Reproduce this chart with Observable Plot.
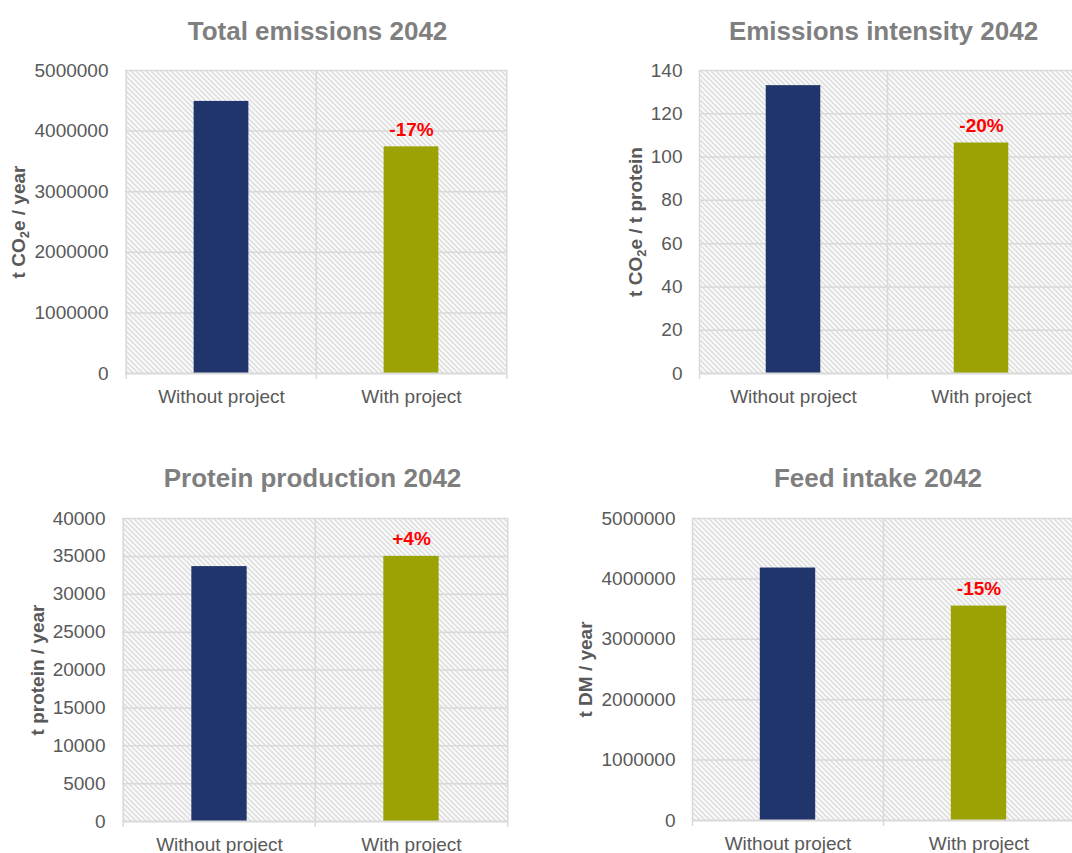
<!DOCTYPE html>
<html><head><meta charset="utf-8">
<script src="https://cdn.jsdelivr.net/npm/d3@7"></script>
<script src="https://cdn.jsdelivr.net/npm/@observablehq/plot@0.6"></script>
<style>
html,body{margin:0;padding:0;background:#fff;}
#wrap{position:relative;width:1072px;height:853px;overflow:hidden;background:#fff;}
</style></head><body>
<svg width="0" height="0" style="position:absolute"><defs>
<pattern id="hatch" width="5" height="5" patternUnits="userSpaceOnUse">
<rect width="5" height="5" fill="#ffffff"/>
<path d="M-1,-1 L6,6 M-1,4 L1,6 M4,-1 L6,1" stroke="#d3d3d3" stroke-width="1.4"/>
</pattern></defs></svg>
<div id="wrap"></div>
<script>
// ---- data ----
const categories = ["Without project", "With project"];
const titles = ["Total emissions 2042", "Emissions intensity 2042", "Protein production 2042", "Feed intake 2042"];
const yLabels = ["t CO₂e / year", "t CO₂e / t protein", "t protein / year", "t DM / year"];
const totalEmissions = [4490000, 3740000];
const emissionsIntensity = [133, 106.5];
const proteinProduction = [33650, 35000];
const feedIntake = [4180000, 3550000];
const changeLabels = ["-17%", "-20%", "+4%", "-15%"];
const ticksTotal = [0, 1000000, 2000000, 3000000, 4000000, 5000000];
const ticksIntensity = [0, 20, 40, 60, 80, 100, 120, 140];
const ticksProtein = [0, 5000, 10000, 15000, 20000, 25000, 30000, 35000, 40000];
const ticksFeed = [0, 1000000, 2000000, 3000000, 4000000, 5000000];
const barColors = ["#21356d", "#9aa204"];

// ---- layout ----
const panels = [
  {values: totalEmissions, ticks: ticksTotal, i: 0, left: 0, top: 0, width: 530, height: 420, ml: 125, mr: 24, mt: 70, mb: 47, labelDx: -107, titleDx: 1.5, titleDy: -39},
  {values: emissionsIntensity, ticks: ticksIntensity, i: 1, left: 540, top: 0, width: 540, height: 420, ml: 159, mr: 5, mt: 70, mb: 47, labelDx: -64, titleDx: -4, titleDy: -39},
  {values: proteinProduction, ticks: ticksProtein, i: 2, left: 0, top: 440, width: 530, height: 413, ml: 122, mr: 23, mt: 78, mb: 32, labelDx: -85, titleDx: -2.5, titleDy: -40},
  {values: feedIntake, ticks: ticksFeed, i: 3, left: 540, top: 440, width: 540, height: 413, ml: 152, mr: 6, mt: 78, mb: 33, labelDx: -107, titleDx: -5.5, titleDy: -40}
];
const grid = "#d9d9d9";
const barFrac = 0.29;
const wrap = document.getElementById("wrap");
const ns = "http://www.w3.org/2000/svg";

for (const p of panels) {
  const data = categories.map((c, k) => ({cat: c, value: p.values[k]}));
  const step = (p.width - p.ml - p.mr) / categories.length;
  const inset = step * (1 - barFrac) / 2;
  const yMax = p.ticks[p.ticks.length - 1];
  const svg = Plot.plot({
    width: p.width, height: p.height,
    marginLeft: p.ml, marginRight: p.mr, marginTop: p.mt, marginBottom: p.mb,
    style: {fontFamily: "'Liberation Sans', Arial, sans-serif", fontSize: "19px", color: "#595959", background: "transparent", overflow: "visible"},
    x: {domain: categories, padding: 0},
    y: {domain: [0, yMax]},
    color: {domain: categories, range: barColors},
    marks: [
      Plot.frame({fill: "url(#hatch)", stroke: null}),
      Plot.ruleY(p.ticks.slice(1), {stroke: grid, strokeWidth: 1.5}),
      Plot.ruleX(categories, {x: d => d, dx: -step / 2, stroke: grid, strokeWidth: 1.5, insetBottom: -6}),
      Plot.ruleX([categories[categories.length - 1]], {x: d => d, dx: step / 2, stroke: grid, strokeWidth: 1.5, insetBottom: -6}),
      Plot.barY(data, {x: "cat", y: "value", fill: "cat", insetLeft: inset, insetRight: inset}),
      Plot.ruleY([0], {stroke: grid, strokeWidth: 2}),
      Plot.axisY(p.ticks, {tickSize: 0, tickPadding: 17, label: null, tickFormat: d3.format("d"), fontSize: 19}),
      Plot.axisX({tickSize: 0, tickPadding: 16, label: null, fontSize: 19}),
      Plot.text(data.slice(1), {x: "cat", y: "value", text: () => changeLabels[p.i], dy: -17, fill: "#ff0000", fontWeight: "bold", fontSize: 19}),
      Plot.text([yLabels[p.i]], {frameAnchor: "left", textAnchor: "middle", lineAnchor: "middle", dx: p.labelDx, rotate: -90, fontWeight: "bold", fontSize: 19, fill: "#595959"}),
      Plot.text([titles[p.i]], {frameAnchor: "top", textAnchor: "middle", lineAnchor: "middle", dx: p.titleDx, dy: p.titleDy, fontWeight: "bold", fontSize: 26, fill: "#7f7f7f"})
    ]
  });
  svg.style.position = "absolute";
  svg.style.left = p.left + "px";
  svg.style.top = p.top + "px";
  // render subscript 2 in CO2e
  svg.querySelectorAll("text").forEach(t => {
    if (t.childElementCount === 0 && t.textContent.includes("₂")) {
      const [a, b] = t.textContent.split("₂");
      t.textContent = "";
      t.append(a);
      const s = document.createElementNS(ns, "tspan");
      s.setAttribute("font-size", "13");
      s.setAttribute("dy", "4");
      s.textContent = "2";
      t.append(s);
      const r = document.createElementNS(ns, "tspan");
      r.setAttribute("dy", "-4");
      r.textContent = b;
      t.append(r);
    }
  });
  wrap.appendChild(svg);
}
</script>
</body></html>
